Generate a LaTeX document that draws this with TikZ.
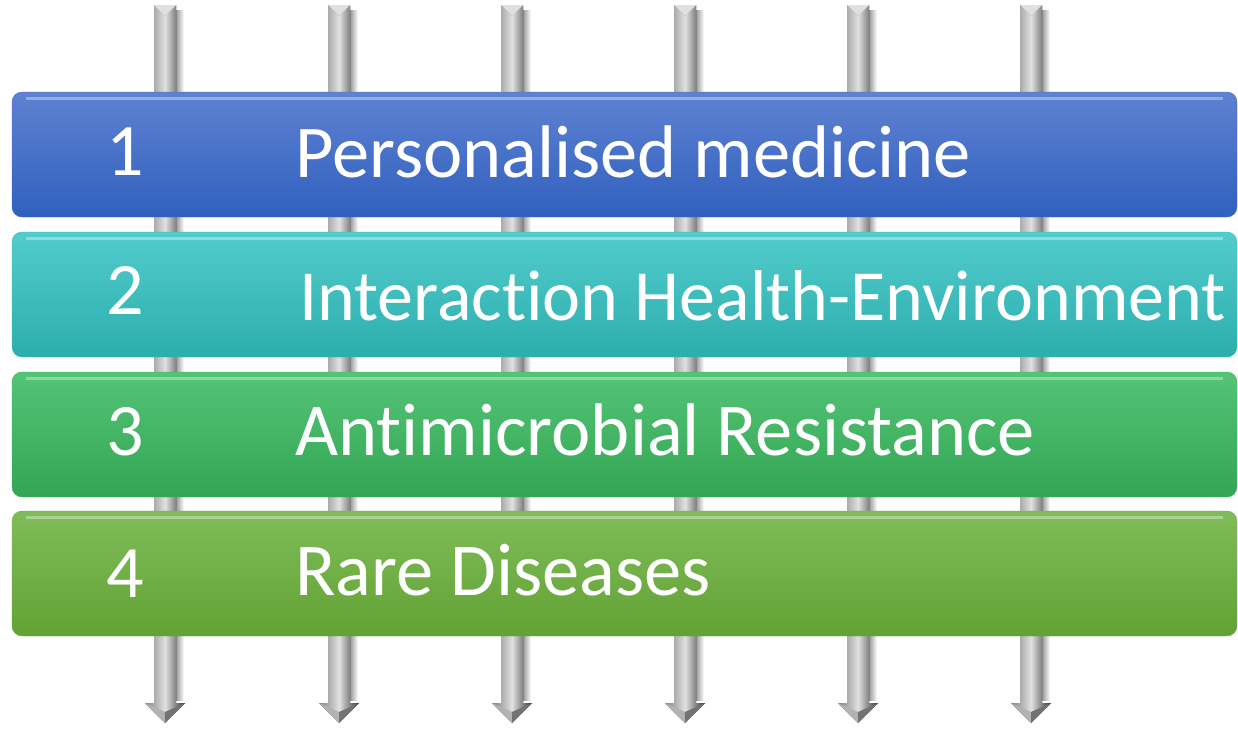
\documentclass[tikz,border=0pt]{standalone}
\usepackage{fontspec}
\setmainfont[Ligatures={NoCommon,NoContextual,NoRare}]{Carlito}
\newcommand{\nolig}{\kern0pt{}}
\begin{document}
\begin{tikzpicture}[x=1pt,y=-1pt,
  bar/.style={rounded corners=10pt, minimum width=1225pt, minimum height=125pt, inner sep=0pt, shading=axis, shading angle=0},
  num/.style={anchor=base, inner sep=0pt, text=white, font=\fontsize{74}{80}\selectfont},
  lbl/.style={anchor=base west, inner sep=0pt, text=white, font=\fontsize{74.5}{80}\selectfont},
  pipe/.style={left color=black!50, right color=black!80, middle color=black!12, draw=none},
  pipeshadow/.style={left color=black!40, right color=white, draw=none}
]
\useasboundingbox (0,0) rectangle (1238,729);
\fill[white] (0,0) rectangle (1238,729);
% pipes (drawn behind the bars)
\foreach \px [count=\i] in {165,339,512,685,858,1031}{
  \coordinate (ptop\i) at (\px,5);
  \coordinate (pbot\i) at (\px,723);
  \fill[pipeshadow] (\px+11,10) rectangle (\px+19,700);
  \fill[pipe] (\px-11,5) -- (\px,16) -- (\px+11,5) -- (\px+11,703) -- (\px+20,703)
     -- (pbot\i) -- (\px-20,703) -- (\px-11,703) -- cycle;
  \fill[black!12] (\px-11,5) -- (\px,16) -- (\px+11,5) -- cycle;
  \fill[black!30] (\px-20,703) -- (pbot\i) -- (\px,712) -- cycle;
  \fill[black!55] (\px+20,703) -- (pbot\i) -- (\px,712) -- cycle;
}
% bars
\node[bar, top color={rgb,255:red,95;green,130;blue,210}, bottom color={rgb,255:red,48;green,96;blue,190}, draw={rgb,255:red,70;green,105;blue,200}] (b1) at (624.5,154.5) {};
\node[bar, top color={rgb,255:red,82;green,204;blue,204}, bottom color={rgb,255:red,44;green,174;blue,172}, draw={rgb,255:red,60;green,190;blue,188}] (b2) at (624.5,294.5) {};
\node[bar, top color={rgb,255:red,84;green,196;blue,118}, bottom color={rgb,255:red,50;green,166;blue,84}, draw={rgb,255:red,66;green,180;blue,100}] (b3) at (624.5,434.5) {};
\node[bar, top color={rgb,255:red,128;green,188;blue,90}, bottom color={rgb,255:red,98;green,162;blue,52}, draw={rgb,255:red,110;green,174;blue,70}] (b4) at (624.5,573.5) {};
% highlights on bars
\foreach \b in {b1,b2,b3,b4}{
  \draw[white, opacity=0.35, line width=3pt] ([xshift=14pt,yshift=-7pt]\b.north west) -- ([xshift=-14pt,yshift=-7pt]\b.north east);
}
% texts
\node[num] (n1) at (125,175) {1};
\node[lbl] (l1) at (295,177) {Personalised medicine};
\node[num] (n2) at (125,314) {2};
\node[lbl, font=\fontsize{72}{80}\selectfont] (l2) at (299,320) {Interact\nolig ion Health-Environment};
\node[num] (n3) at (125,455) {3};
\node[lbl] (l3) at (295,455) {Ant\nolig imicrobial Resistance};
\node[num] (n4) at (125,597) {4};
\node[lbl] (l4) at (295,595) {Rare Diseases};
\end{tikzpicture}
\end{document}
